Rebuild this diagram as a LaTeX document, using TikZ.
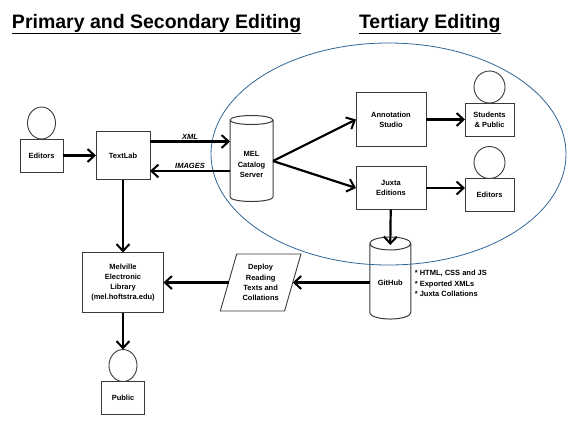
\documentclass[tikz,border=0pt]{standalone}
\usepackage{fontspec}
\setmainfont{Liberation Sans}
\usetikzlibrary{shapes.geometric, arrows.meta, positioning}
\definecolor{melgray}{HTML}{3a3a3a}
\definecolor{melblue}{HTML}{2f6496}

\begin{document}
\begin{tikzpicture}[
    outer sep=0pt,
    title_node/.style={inner sep=0pt, anchor=base west, font=\fontsize{19.5}{24}\selectfont\bfseries},
    step_node/.style={rectangle, draw=melgray, line width=1pt, align=center, inner sep=0pt, font=\fontsize{7.5}{10.2}\selectfont\bfseries},
    person_node/.style={step_node, minimum width=49pt, minimum height=33pt},
    head_node/.style={ellipse, draw=melgray, line width=0.9pt, inner sep=0pt, minimum width=31pt, minimum height=32pt},
    store_node/.style={cylinder, shape border rotate=90, draw=melgray, line width=1pt, inner sep=0pt},
    store_text/.style={align=center, inner sep=0pt, font=\fontsize{7.5}{10.2}\selectfont\bfseries},
    deploy_node/.style={trapezium, trapezium left angle=71, trapezium right angle=109, trapezium stretches=true, draw=melgray, line width=0.9pt, align=center, inner sep=0pt, minimum width=81pt, minimum height=57pt, font=\fontsize{7.5}{10.2}\selectfont\bfseries},
    note_node/.style={inner sep=0pt, align=left, font=\fontsize{7.5}{10.2}\selectfont\bfseries},
    arrow/.style={-{Straight Barb[length=7pt, width=13pt, line width=2pt]}, line width=2.2pt, draw=black}
]
\useasboundingbox (0,0) rectangle (577pt,-424pt);

% Titles
\node[title_node] (primary) at (12pt,-28pt) {\underline{Primary and Secondary Editing}};
\node[title_node] (tertiary) at (359pt,-28pt) {\underline{Tertiary Editing}};

% Primary
\node[person_node, minimum width=43pt] (editors) at (41.5pt,-155.5pt) {Editors};
\node[head_node, minimum width=28pt, above=0pt of editors] (editorshead) {};
\node[step_node, minimum width=54pt, minimum height=48pt, right=33pt of editors] (textlab) {TextLab};
\node[store_node, minimum width=43pt, minimum height=86pt, aspect=0.3, right=80pt of textlab, yshift=-5.5pt] (catalog) {\phantom{\rule{30pt}{43pt}}};
\node[store_text] (catalogtext) at ([yshift=-3.5pt]catalog.center) {MEL\\Catalog\\Server};

% Tertiary
\node[step_node, minimum width=70pt, minimum height=54pt, right=83pt of catalog, yshift=41.5pt] (annotation) {Annotation\\Studio};
\node[step_node, minimum width=70pt, minimum height=43pt, below=20pt of annotation] (juxta) {Juxta\\Editions};
\node[person_node, right=39pt of annotation] (students) {Students\\\& Public};
\node[head_node, above=0pt of students] (studentshead) {};
\node[person_node, right=39pt of juxta, yshift=-7pt] (editorstwo) {Editors};
\node[head_node, above=0pt of editorstwo] (editorstwohead) {};

% Publishing
\node[step_node, minimum width=81pt, minimum height=60pt, below=73pt of textlab] (melville) {Melville\\Electronic\\Library\\(mel.hoftstra.edu)};
\node[head_node, minimum width=28pt, below=37pt of melville] (publichead) {};
\node[person_node, minimum width=43pt, below=0pt of publichead] (public) {Public};
\node[deploy_node, right=65pt of melville] (deploy) {Deploy\\Reading\\Texts and\\Collations};
\node[store_node, minimum width=41pt, minimum height=82pt, aspect=0.43, right=77pt of deploy, yshift=1pt] (github) {\phantom{\rule{30pt}{41pt}}};
\node[store_text] (githubtext) at ([yshift=-1pt]github.center) {GitHub};
\node[note_node, right=4pt of github.east, yshift=-2pt] (notes) {* HTML, CSS and JS\\* Exported XMLs\\* Juxta Collations};

% Circle round the tertiary tools
\node[ellipse, draw=melblue, line width=0.8pt, inner sep=0pt, minimum width=355pt, minimum height=222pt] (tertiaryring) at (388.5pt,-154pt) {};

% Connections
\draw[arrow] (editors) -- (textlab);
\draw[arrow] ([yshift=14pt]textlab.east) -- node[above, inner sep=2pt, font=\fontsize{7.5}{10}\selectfont\bfseries\itshape] {XML} ([yshift=14pt]textlab.east -| catalog.west);
\draw[arrow] ([yshift=-15.5pt]textlab.east -| catalog.west) -- node[above, inner sep=2pt, font=\fontsize{7.5}{10}\selectfont\bfseries\itshape] {IMAGES} ([yshift=-15.5pt]textlab.east);
\draw[arrow] (catalog.east) -- (annotation.west);
\draw[arrow] (catalog.east) -- (juxta.west);
\draw[arrow] (annotation) -- (students);
\draw[arrow] (juxta) -- (juxta.east -| editorstwo.west);
\draw[arrow] (juxta) -- ([yshift=-8pt]github.north);
\draw[arrow] (github.west |- deploy.east) -- (deploy.east);
\draw[arrow] (deploy.west) -- (melville);
\draw[arrow] (textlab) -- (melville);
\draw[arrow] (melville) -- (publichead);

\end{tikzpicture}
\end{document}
